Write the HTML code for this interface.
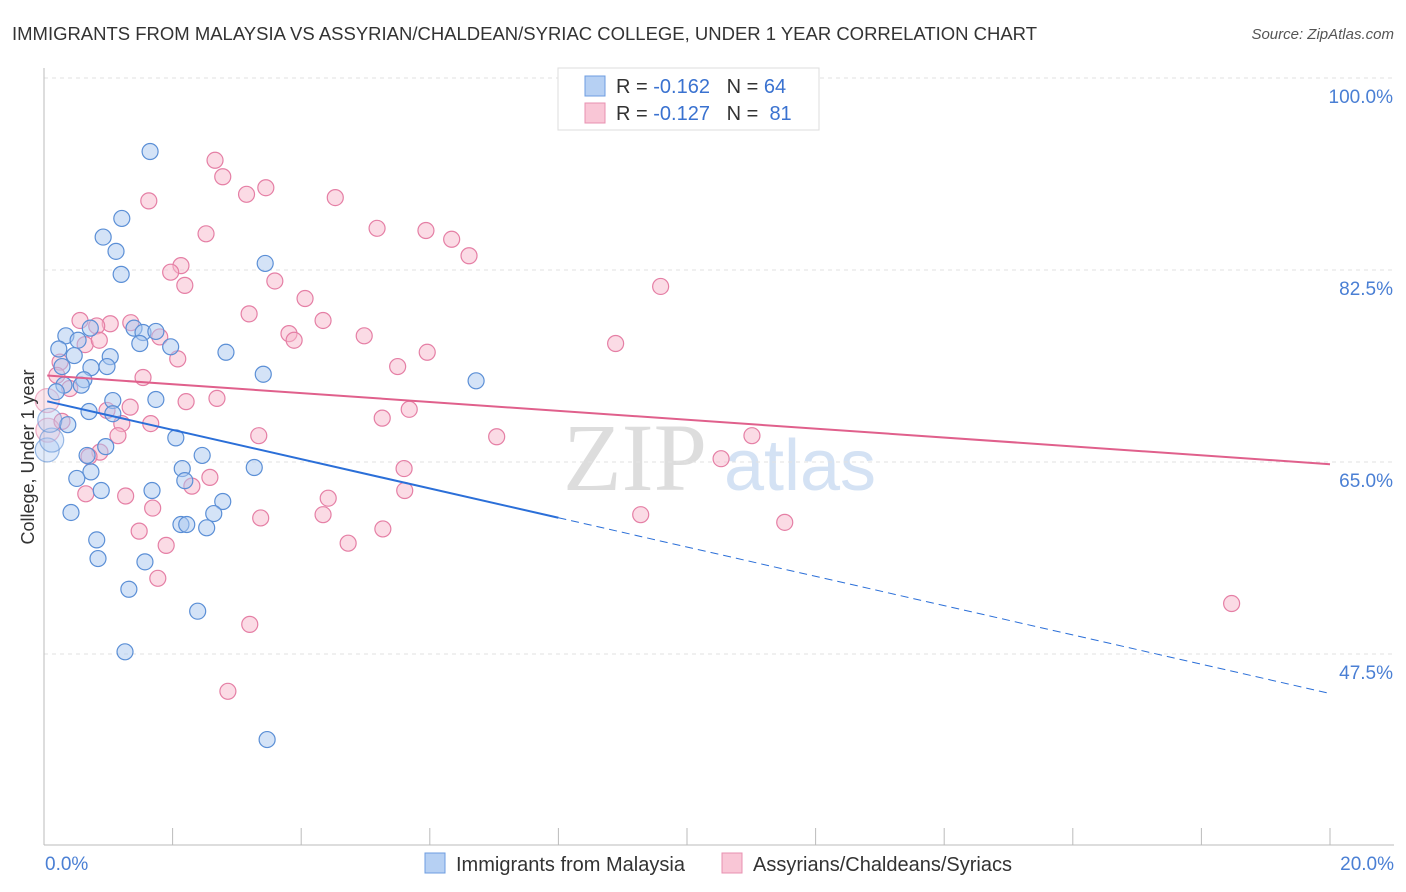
<!DOCTYPE html>
<html><head><meta charset="utf-8">
<style>
body{margin:0;background:#fff;font-family:"Liberation Sans",sans-serif;}
#wrap{position:relative;width:1406px;height:892px;overflow:hidden;}
</style></head>
<body>
<div id="wrap">
<svg id="chart" width="1406" height="892" xmlns="http://www.w3.org/2000/svg">
<text x="12" y="40" font-size="18" fill="#333" textLength="1025" lengthAdjust="spacingAndGlyphs">IMMIGRANTS FROM MALAYSIA VS ASSYRIAN/CHALDEAN/SYRIAC COLLEGE, UNDER 1 YEAR CORRELATION CHART</text>
<text x="1394" y="39" font-size="15" fill="#555" text-anchor="end" font-style="italic">Source: ZipAtlas.com</text>
<text x="635" y="490" font-size="96" fill="#ddd" font-family="Liberation Serif,serif" text-anchor="middle">ZIP</text>
<text x="800" y="490" font-size="72" fill="#d4e2f4" text-anchor="middle">atlas</text>
<g id="grid"></g>
<g id="axes"></g>
<g id="pts"></g>
<g id="trend"></g>
<text transform="translate(34,457) rotate(-90)" font-size="18" fill="#333" text-anchor="middle">College, Under 1 year</text>
<text x="45" y="870" font-size="19" fill="#4a7fd4">0.0%</text>
<text x="1394" y="870" font-size="19" fill="#4a7fd4" text-anchor="end">20.0%</text>
<g>
<rect x="558" y="68" width="261" height="62" fill="#fff" stroke="#ddd"/>
<rect x="585" y="76" width="20" height="20" fill="#b6d0f3" stroke="#6d9ce0"/>
<rect x="585" y="103" width="20" height="20" fill="#f9c6d6" stroke="#e890b0"/>
<text x="616" y="93" font-size="20" fill="#333">R = <tspan fill="#3a72d0">-0.162</tspan>&#160;&#160;&#160;N = <tspan fill="#3a72d0">64</tspan></text>
<text x="616" y="120" font-size="20" fill="#333">R = <tspan fill="#3a72d0">-0.127</tspan>&#160;&#160;&#160;N = &#160;<tspan fill="#3a72d0">81</tspan></text>
</g>
<g>
<rect x="425" y="853" width="20" height="20" fill="#b6d0f3" stroke="#6d9ce0"/>
<text x="456" y="871" font-size="20" fill="#333">Immigrants from Malaysia</text>
<rect x="722" y="853" width="20" height="20" fill="#f9c6d6" stroke="#e890b0"/>
<text x="753" y="871" font-size="20" fill="#333">Assyrians/Chaldeans/Syriacs</text>
</g>
</svg>
</div>
<script>
const yTicks=[100,82.5,65,47.5];
const yTickLabels=["100.0%","82.5%","65.0%","47.5%"];
const xTicks=[0,2,4,6,8,10,12,14,16,18,20];
const blueX=[1.65,1.21,0.92,1.12,1.20,3.44,0.34,0.72,0.53,0.23,0.47,1.03,1.40,1.54,1.74,1.49,1.97,2.83,0.73,0.98,0.28,0.62,0.31,0.58,0.19,3.41,6.72,1.07,1.74,0.70,1.07,0.37,2.05,0.96,0.05,0.67,2.46,0.73,0.51,2.15,3.27,2.19,0.89,1.68,2.78,0.42,2.64,2.13,2.22,2.53,0.82,0.84,1.57,1.32,2.39,1.26,3.47,0.12,0.09];
const blueY=[93.3,87.2,85.5,84.2,82.1,83.1,76.5,77.2,76.1,75.3,74.7,74.6,77.2,76.8,76.9,75.8,75.5,75.0,73.6,73.7,73.7,72.5,72.0,72.0,71.4,73.0,72.4,70.6,70.7,69.6,69.4,68.4,67.2,66.4,66.1,65.6,65.6,64.1,63.5,64.4,64.5,63.3,62.4,62.4,61.4,60.4,60.3,59.3,59.3,59.0,57.9,56.2,55.9,53.4,51.4,47.7,39.7,67.0,68.8];
const pinkX=[2.66,2.78,3.45,3.15,1.63,4.53,2.52,5.18,5.94,6.34,6.61,2.13,1.97,2.19,3.59,4.06,9.59,3.19,4.34,0.56,1.03,1.35,0.82,1.80,3.81,3.89,4.98,8.89,0.64,0.86,5.96,2.08,0.25,5.50,0.20,1.54,0.40,2.21,2.69,1.34,5.68,5.26,0.98,1.66,1.21,0.28,1.15,3.34,7.04,11.01,0.87,0.70,10.53,5.60,2.58,2.30,5.61,1.27,0.65,4.42,1.69,3.37,4.34,9.28,11.52,5.27,1.48,4.73,1.90,1.77,3.20,18.47,2.86,0.05,0.06];
const pinkY=[92.5,91.0,90.0,89.4,88.8,89.1,85.8,86.3,86.1,85.3,83.8,82.9,82.3,81.1,81.5,79.9,81.0,78.5,77.9,77.9,77.6,77.7,77.4,76.4,76.7,76.1,76.5,75.8,75.7,76.1,75.0,74.4,74.1,73.7,72.9,72.7,71.7,70.5,70.8,70.0,69.8,69.0,69.7,68.5,68.5,68.7,67.4,67.4,67.3,67.4,65.9,65.5,65.3,64.4,63.6,62.8,62.4,61.9,62.1,61.7,60.8,59.9,60.2,60.2,59.5,58.9,58.7,57.6,57.4,54.4,50.2,52.1,44.1,70.6,67.9];
const blueTrend=[70.6,-1.335];
const pinkTrend=[72.9,-0.405];
const blueSolidEnd=8.0;

const X=v=>44+v/20*1286;
const Y=v=>78+(100-v)/17.5*192;
const NS="http://www.w3.org/2000/svg";
function mk(tag,attrs,parent){const e=document.createElementNS(NS,tag);for(const k in attrs)e.setAttribute(k,attrs[k]);document.getElementById(parent).appendChild(e);return e;}

yTicks.forEach((t,i)=>{
  const l=mk('line',{x1:44,x2:1394,y1:Y(t),y2:Y(t),stroke:'#e2e2e2','stroke-dasharray':'4,4'},'grid');
  
  
  const tx=mk('text',{x:1393,y:Y(t)+25,'font-size':19,fill:'#4a7fd4','text-anchor':'end'},'grid');
  tx.textContent=yTickLabels[i];
  
  
});
const ax=mk('line',{x1:44,x2:44,y1:68,y2:845,stroke:'#bbb'},'axes');


const bx=mk('line',{x1:44,x2:1394,y1:845,y2:845,stroke:'#bbb'},'axes');


xTicks.forEach(t=>{
  const l=mk('line',{x1:X(t),x2:X(t),y1:828,y2:845,stroke:'#bbb'},'axes');
  
  
});
function pts(xs,ys,fill,stroke,name){
  xs.forEach((x,i)=>{
    const big=x<0.15;
    const c=mk('circle',{cx:X(x),cy:Y(ys[i]),r:big?12:8,fill:fill,'fill-opacity':big?0.35:0.5,stroke:stroke,'stroke-width':1.2,'stroke-opacity':big?0.6:1},'pts');
    
    
  });
}
pts(pinkX,pinkY,'#f7b8cc','#e57fa5','point-assyrian');
pts(blueX,blueY,'#a9c7f0','#5b8fd6','point-malaysia');
const f=(tr,x)=>tr[0]+tr[1]*x;
const b1=mk('line',{x1:X(0.05),y1:Y(f(blueTrend,0.05)),x2:X(blueSolidEnd),y2:Y(f(blueTrend,blueSolidEnd)),stroke:'#2b6fd8','stroke-width':2},'trend');


const b2=mk('line',{x1:X(blueSolidEnd),y1:Y(f(blueTrend,blueSolidEnd)),x2:X(20),y2:Y(f(blueTrend,20)),stroke:'#2b6fd8','stroke-width':1,'stroke-dasharray':'8,5'},'trend');


const p1=mk('line',{x1:X(0.05),y1:Y(f(pinkTrend,0.05)),x2:X(20),y2:Y(f(pinkTrend,20)),stroke:'#e0608c','stroke-width':2},'trend');


</script>
</body></html>
